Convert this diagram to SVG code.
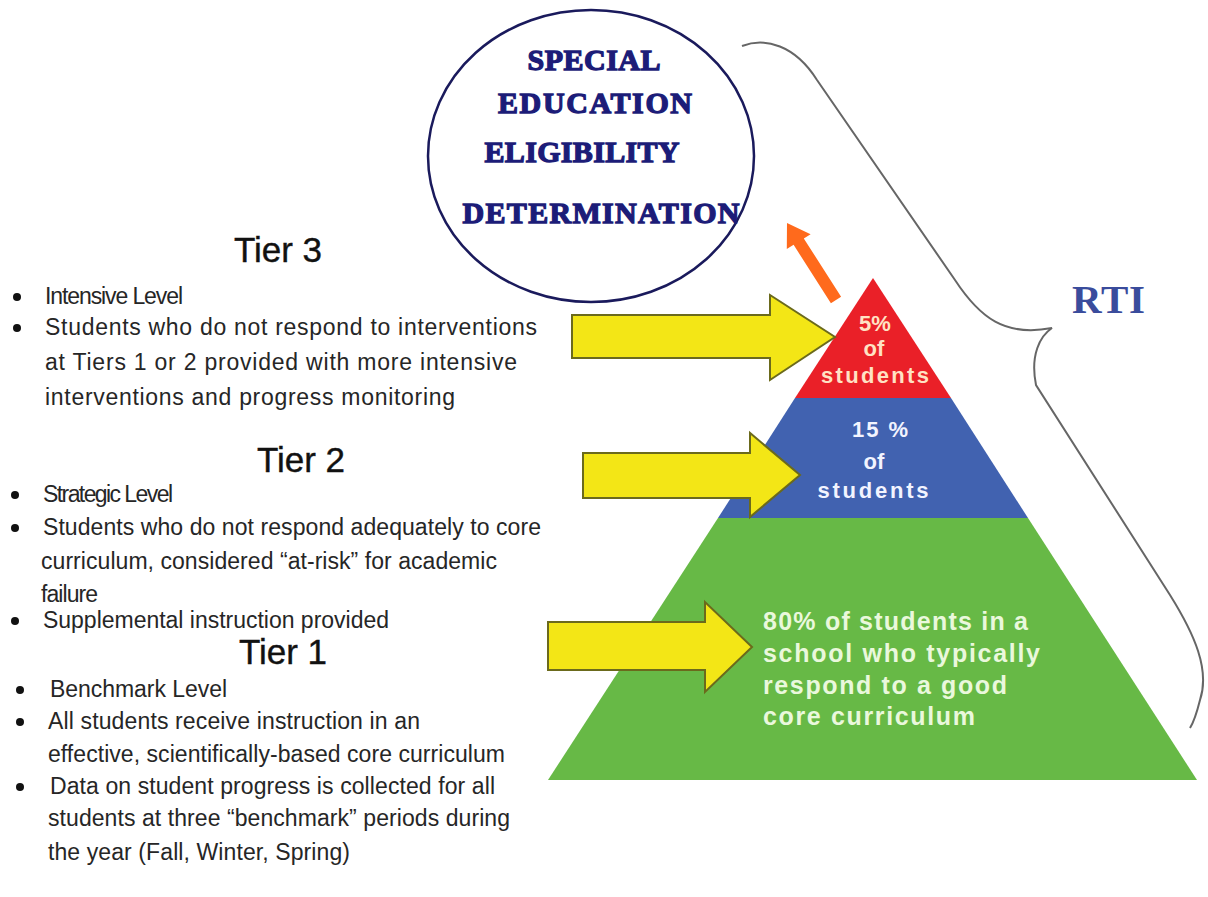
<svg xmlns="http://www.w3.org/2000/svg" width="1208" height="897" viewBox="0 0 1208 897">
<style>
.hd{font-family:"Liberation Sans",Arial,sans-serif;font-size:35px;fill:#111;stroke:#111;stroke-width:0.4;text-anchor:middle}
.bt{font-family:"Liberation Sans",Arial,sans-serif;font-size:23px;fill:#262626}
.bl{fill:#111}
.ct{font-family:"Liberation Serif","Times New Roman",serif;font-weight:bold;font-size:30px;fill:#1c1c78;stroke:#1c1c78;stroke-width:1.3;text-anchor:middle}
.pt{font-family:"Liberation Sans",Arial,sans-serif;font-weight:bold;font-size:22px;text-anchor:middle}
.gt{font-family:"Liberation Sans",Arial,sans-serif;font-weight:bold;font-size:25px;fill:#eaf8dc}
.ya{fill:#f3e616;stroke:#6b6a1c;stroke-width:2;stroke-linejoin:miter}
</style>
<rect width="1208" height="897" fill="#ffffff"/>

<g id="pyramid">
  <polygon id="tier1-band" points="718,518 1028,518 1197,780 548,780" fill="#67b946"/>
  <polygon id="tier2-band" points="795,398 951,398 1028,518 718,518" fill="#4162b0"/>
  <polygon id="tier3-band" points="873,278 951,398 795,398" fill="#ea2028"/>
  <text class="pt" x="875" y="331" fill="#ffe2c4">5%</text>
  <text class="pt" x="874" y="356" fill="#ffe2c4">of</text>
  <text class="pt" x="875" y="383" fill="#ffe2c4" textLength="108">students</text>
  <text class="pt" x="880" y="437" fill="#f2f4ff" textLength="56">15 %</text>
  <text class="pt" x="874" y="469" fill="#f2f4ff">of</text>
  <text class="pt" x="873" y="498" fill="#f2f4ff" textLength="111">students</text>
  <text class="gt" x="763" y="630" textLength="265">80% of students in a</text>
  <text class="gt" x="763" y="662" textLength="277">school who typically</text>
  <text class="gt" x="763" y="694" textLength="244">respond to a good</text>
  <text class="gt" x="763" y="725" textLength="212">core curriculum</text>
</g>

<g id="sped-circle">
  <ellipse cx="591" cy="156" rx="163" ry="146" fill="#ffffff" stroke="#1a1a5c" stroke-width="2.5"/>
  <text class="ct" x="594" y="70" textLength="133">SPECIAL</text>
  <text class="ct" x="595" y="113" textLength="194">EDUCATION</text>
  <text class="ct" x="582" y="162" textLength="195">ELIGIBILITY</text>
  <text class="ct" x="601" y="223" textLength="277">DETERMINATION</text>
</g>

<g id="rti-label">
  <text x="1072" y="313" font-family="'Liberation Serif','Times New Roman',serif" font-weight="bold" font-size="41" fill="#3a4c9c" textLength="73">RTI</text>
</g>

<g id="connectors">
  <path id="rti-brace" d="M742,46 C765,37 795,45 817,80 L955,280 C980,318 1005,337 1052,328 C1040,336 1030,355 1036,385 L1170,595 C1195,635 1210,670 1200,700 C1197,712 1195,720 1190,728" fill="none" stroke="#666" stroke-width="2"/>
  <polygon id="orange-arrow" points="787,223 810.6,234.2 803.8,238.4 841.1,296.8 830.9,303.2 793.6,244.8 786.8,249" fill="#ff6a1c"/>
  <polygon id="arrow-tier3" class="ya" points="572,315 770,315 770,295 835,337 770,380 770,358 572,358"/>
  <polygon id="arrow-tier2" class="ya" points="583,453 750,453 750,433 800,475 750,517 750,498 583,498"/>
  <polygon id="arrow-tier1" class="ya" points="548,622 705,622 705,602 752,647 705,692 705,670 548,670"/>
</g>

<g id="tier3-text">
  <text class="hd" x="278" y="262">Tier 3</text>
  <circle class="bl" cx="17" cy="297" r="4"/>
  <text class="bt" x="45" y="304" textLength="138">Intensive Level</text>
  <circle class="bl" cx="17" cy="328" r="4"/>
  <text class="bt" x="45" y="335" textLength="492">Students who do not respond to interventions</text>
  <text class="bt" x="45" y="370" textLength="472">at Tiers 1 or 2 provided with more intensive</text>
  <text class="bt" x="45" y="405" textLength="410">interventions and progress monitoring</text>
</g>

<g id="tier2-text">
  <text class="hd" x="301" y="472">Tier 2</text>
  <circle class="bl" cx="15" cy="495" r="4"/>
  <text class="bt" x="43" y="502" textLength="130">Strategic Level</text>
  <circle class="bl" cx="15" cy="528" r="4"/>
  <text class="bt" x="43" y="535" textLength="498">Students who do not respond adequately to core</text>
  <text class="bt" x="41" y="569" textLength="456">curriculum, considered “at-risk” for academic</text>
  <text class="bt" x="41" y="602" textLength="57">failure</text>
  <circle class="bl" cx="15" cy="621" r="4"/>
  <text class="bt" x="43" y="628" textLength="346">Supplemental instruction provided</text>
</g>

<g id="tier1-text">
  <text class="hd" x="283" y="664">Tier 1</text>
  <circle class="bl" cx="20" cy="690" r="4"/>
  <text class="bt" x="50" y="697" textLength="177">Benchmark Level</text>
  <circle class="bl" cx="20" cy="722" r="4"/>
  <text class="bt" x="48" y="729" textLength="372">All students receive instruction in an</text>
  <text class="bt" x="48" y="762" textLength="457">effective, scientifically-based core curriculum</text>
  <circle class="bl" cx="20" cy="787" r="4"/>
  <text class="bt" x="50" y="794" textLength="445">Data on student progress is collected for all</text>
  <text class="bt" x="48" y="826" textLength="462">students at three “benchmark” periods during</text>
  <text class="bt" x="48" y="860" textLength="302">the year (Fall, Winter, Spring)</text>
</g>
</svg>
